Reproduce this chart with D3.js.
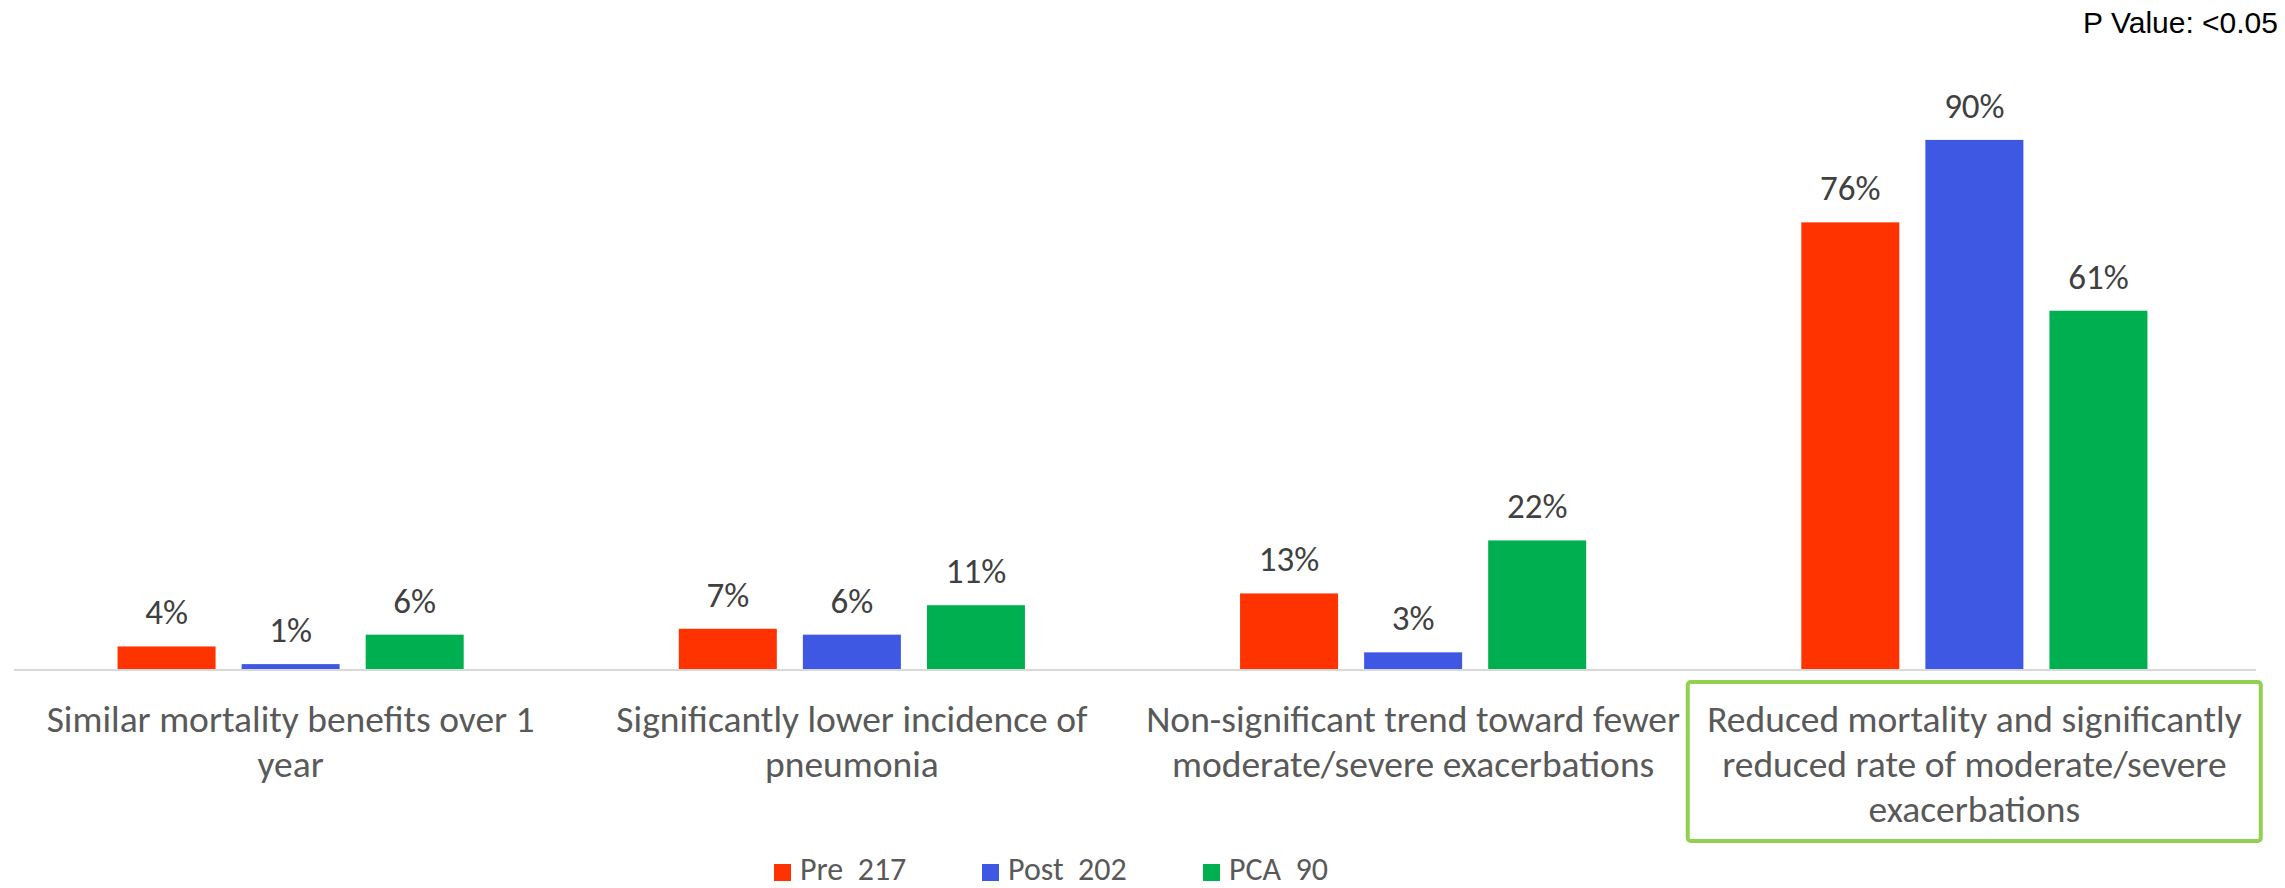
<!DOCTYPE html>
<html>
<head>
<meta charset="utf-8">
<script src="https://cdn.jsdelivr.net/npm/d3@7"></script>
<style>
  html, body { margin: 0; padding: 0; background: #ffffff; }
  svg { display: block; }
</style>
</head>
<body>
<svg id="chart" width="2285" height="888"></svg>
<script>
// Outcome groups, wrapped onto the lines they are printed on
const categories = [
  "Similar mortality benefits over 1 year",
  "Significantly lower incidence of pneumonia",
  "Non-significant trend toward fewer moderate/severe exacerbations",
  "Reduced mortality and significantly reduced rate of moderate/severe exacerbations"
];
const categoryLines = [
  ["Similar mortality benefits over 1", "year"],
  ["Significantly lower incidence of", "pneumonia"],
  ["Non-significant trend toward fewer", "moderate/severe exacerbations"],
  ["Reduced mortality and significantly", "reduced rate of moderate/severe", "exacerbations"]
];

// Cohorts and their sizes
const seriesNames = ["Pre", "Post", "PCA"];
const seriesLabels = ["Pre  217", "Post  202", "PCA  90"];

// Percentages per cohort, one entry per outcome group
const preValues  = [4, 7, 13, 76];
const postValues = [1, 6, 3, 90];
const pcaValues  = [6, 11, 22, 61];

const pValueNote = "P Value: <0.05";
const highlightedCategory = categories[3];

const seriesValues = { Pre: preValues, Post: postValues, PCA: pcaValues };
const colors = { Pre: "#FF3300", Post: "#3F58E3", PCA: "#00B050" };

const FONT = "Carlito, Calibri, Lato, 'Open Sans', sans-serif";

const svg = d3.select("#chart");

const x0 = d3.scaleBand()
  .domain(categories)
  .range([10, 2255])
  .paddingInner(0)
  .paddingOuter(0);

const x1 = d3.scaleBand()
  .domain(seriesNames)
  .range([0, x0.bandwidth()])
  .paddingInner(0.21)
  .paddingOuter(0.867);

const y = d3.scaleLinear()
  .domain([0, 100])
  .range([670, 81]);

// Bars
const groups = svg.append("g")
  .selectAll("g")
  .data(categories)
  .join("g")
  .attr("transform", d => `translate(${x0(d)},0)`);

groups.selectAll("rect")
  .data((c, i) => seriesNames.map(s => ({ s, v: seriesValues[s][i] })))
  .join("rect")
  .attr("x", d => x1(d.s))
  .attr("y", d => y(d.v))
  .attr("width", x1.bandwidth())
  .attr("height", d => y(0) - y(d.v))
  .attr("fill", d => colors[d.s]);

// Value labels
groups.selectAll("text.value")
  .data((c, i) => seriesNames.map(s => ({ s, v: seriesValues[s][i] })))
  .join("text")
  .attr("class", "value")
  .attr("x", d => x1(d.s) + x1.bandwidth() / 2)
  .attr("y", d => y(d.v) - 22)
  .attr("text-anchor", "middle")
  .attr("font-family", FONT)
  .attr("font-size", 35)
  .attr("fill", "#404040")
  .text(d => d.v + "%");

// Category axis
const xAxis = d3.axisBottom(x0).tickSize(0).tickFormat("");
const axisG = svg.append("g")
  .attr("transform", `translate(0,${y(0)})`)
  .call(xAxis);
axisG.select(".domain")
  .attr("stroke", "#D9D9D9")
  .attr("stroke-width", 2)
  .attr("d", `M14,0H2256`);

// Highlight frame around the last category
const hb = x0(highlightedCategory);
svg.append("rect")
  .attr("x", hb - 6)
  .attr("y", 682)
  .attr("width", 573)
  .attr("height", 159)
  .attr("rx", 3)
  .attr("fill", "none")
  .attr("stroke", "#92D050")
  .attr("stroke-width", 4);

// Category labels
axisG.selectAll(".tick").each(function (d, i) {
  const t = d3.select(this).append("text")
    .attr("text-anchor", "middle")
    .attr("font-family", FONT)
    .attr("font-size", 37.5)
    .attr("fill", "#595959");
  categoryLines[i].forEach((line, j) => {
    t.append("tspan")
      .attr("x", 0)
      .attr("y", 62 + j * 45)
      .text(line);
  });
});

// Legend
const legendX = [774, 982, 1203];
const legend = svg.append("g")
  .selectAll("g")
  .data(seriesNames)
  .join("g")
  .attr("transform", (d, i) => `translate(${legendX[i]},0)`);
legend.append("rect")
  .attr("x", 0)
  .attr("y", 864)
  .attr("width", 17)
  .attr("height", 17)
  .attr("fill", d => colors[d]);
legend.append("text")
  .attr("x", 26)
  .attr("y", 880)
  .attr("font-family", FONT)
  .attr("font-size", 32)
  .attr("fill", "#595959")
  .style("white-space", "pre")
  .text((d, i) => seriesLabels[i]);

// Significance note
svg.append("text")
  .attr("x", 2278)
  .attr("y", 33)
  .attr("text-anchor", "end")
  .attr("font-family", "'Liberation Sans', Arial, sans-serif")
  .attr("font-size", 30)
  .attr("fill", "#000000")
  .text(pValueNote);
</script>
</body>
</html>
